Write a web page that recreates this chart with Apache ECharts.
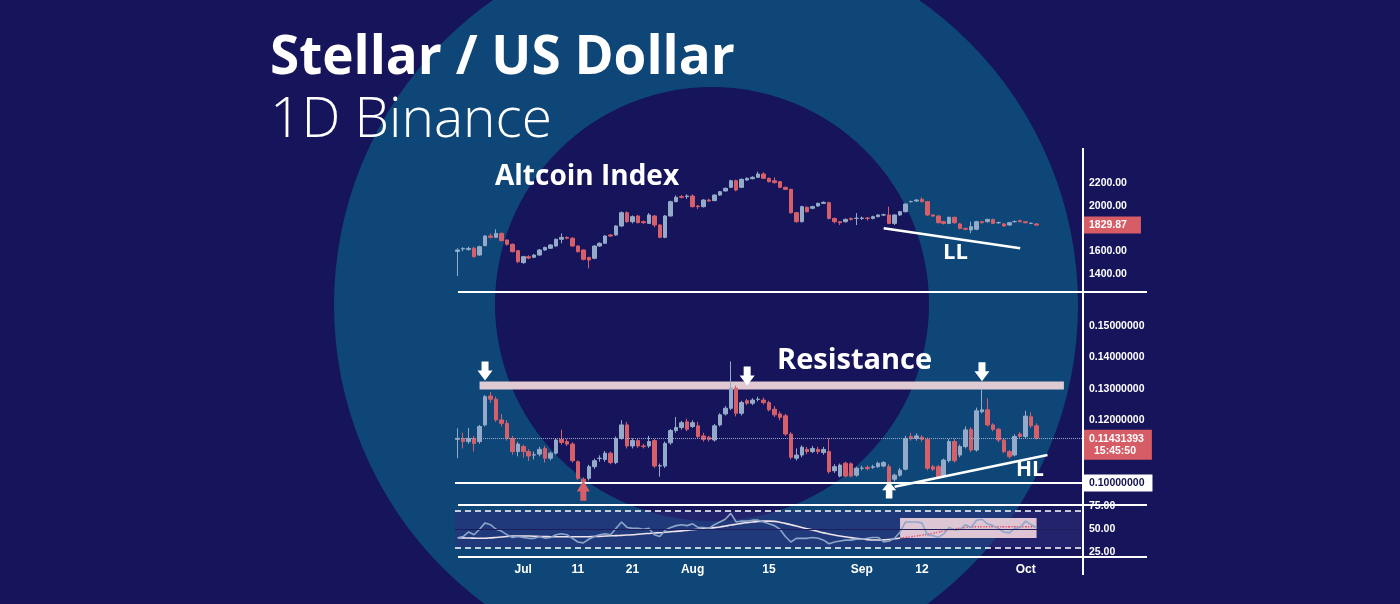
<!DOCTYPE html>
<html><head><meta charset="utf-8">
<script src="https://cdn.jsdelivr.net/npm/echarts/dist/echarts.min.js"></script>
<style>html,body{margin:0;padding:0;background:#15134f;}#chart{width:1400px;height:604px;}</style>
</head><body><div id="chart"></div>
<script>
// ---------- categories (daily) ----------
const categories = [];
(function () {
  const d0 = Date.UTC(2022, 5, 19);
  for (let k = 0; k < 115; k++) categories.push(new Date(d0 + k * 86400000).toISOString().slice(0, 10));
})();
const tickDates = ['2022-07-01','2022-07-11','2022-07-21','2022-08-01','2022-08-15','2022-09-01','2022-09-12','2022-10-01'];
const tickTexts = ['Jul','11','21','Aug','15','Sep','12','Oct'];

// ---------- Altcoin Index [open, close, low, high] ----------
const altcoinOHLC = [
[1598,1611,1382,1626],[1620,1625,1600,1635],[1615,1625,1605,1640],[1626,1552,1545,1640],[1567,1640,1560,1650],
[1649,1734,1645,1740],[1734,1722,1712,1757],[1722,1757,1718,1793],[1757,1693,1688,1765],[1699,1661,1650,1705],
[1661,1596,1590,1668],[1605,1508,1495,1610],[1500,1552,1490,1560],[1552,1540,1530,1565],[1547,1567,1540,1575],
[1567,1611,1560,1620],[1611,1634,1605,1640],[1626,1655,1620,1662],[1646,1705,1640,1712],[1705,1722,1670,1757],
[1722,1715,1705,1730],[1714,1646,1640,1725],[1646,1596,1590,1652],[1611,1529,1520,1615],[1546,1523,1450,1552],
[1538,1646,1530,1652],[1646,1670,1640,1678],[1670,1734,1665,1742],[1743,1734,1728,1750],[1743,1822,1738,1830],
[1822,1939,1815,1950],[1939,1860,1850,1950],[1860,1904,1845,1915],[1910,1851,1845,1920],[1860,1851,1842,1870],
[1845,1919,1840,1935],[1910,1831,1810,1918],[1831,1722,1715,1838],[1722,1910,1715,1918],[1910,2036,1905,2045],
[2036,2074,2030,2090],[2080,2074,2065,2095],[2080,2086,2060,2100],[2086,1992,1985,2100],[1998,1992,1970,2005],
[1992,2050,1985,2058],[2050,2042,2035,2062],[2045,2094,2040,2100],[2094,2124,2088,2130],[2130,2153,2125,2160],
[2162,2220,2155,2228],[2220,2138,2128,2230],[2162,2232,2155,2240],[2226,2241,2220,2250],[2238,2250,2232,2260],
[2250,2279,2245,2300],[2279,2241,2235,2295],[2241,2212,2205,2248],[2220,2203,2195,2250],[2212,2162,2155,2218],
[2162,2144,2138,2168],[2144,1939,1930,2150],[1939,1860,1850,1945],[1860,1992,1852,2000],[1986,1948,1940,1995],
[1978,1992,1970,2000],[1998,2021,1992,2028],[2021,2030,2015,2038],[2027,1889,1880,2035],[1889,1860,1845,1895],
[1860,1851,1830,1865],[1860,1880,1852,1888],[1889,1880,1870,1895],[1889,1890,1830,1935],[1889,1892,1875,1905],
[1892,1889,1870,1900],[1889,1904,1880,1912],[1904,1919,1898,1925],[1919,1920,1910,1930],[1919,1845,1838,1992],
[1845,1919,1830,1925],[1919,1948,1912,1955],[1948,2015,1940,2022],[2036,2037,2028,2045],[2042,2050,2035,2058],
[2056,2036,2030,2075],[2036,1919,1910,2042],[1919,1910,1900,1925],[1910,1851,1845,1918],[1860,1845,1835,1868],
[1845,1898,1838,1905],[1898,1851,1840,1905],[1840,1801,1792,1848],[1801,1793,1785,1808],[1787,1816,1758,1860],
[1793,1860,1785,1868],[1860,1851,1845,1866],[1860,1880,1852,1886],[1880,1845,1838,1886],[1851,1852,1840,1860],
[1840,1822,1815,1848],[1831,1851,1825,1858],[1860,1861,1852,1870],[1869,1860,1855,1878],[1860,1851,1845,1866],
[1845,1846,1838,1852],[1840,1829.87,1825,1848]
];

// ---------- Stellar / USD [open, close, low, high] ----------
const xlmOHLC = [
[0.1139,0.1142,0.1079,0.1174],[0.1142,0.1132,0.1110,0.1160],[0.1132,0.1142,0.1125,0.1175],[0.1142,0.1126,0.1100,0.1150],[0.1132,0.1180,0.1125,0.1185],
[0.1185,0.1275,0.1180,0.1280],[0.1277,0.1267,0.1255,0.1290],[0.1267,0.1201,0.1195,0.1275],[0.1201,0.1190,0.1180,0.1220],[0.1190,0.1142,0.1135,0.1200],
[0.1142,0.1100,0.1090,0.1150],[0.1100,0.1124,0.1085,0.1130],[0.1116,0.1100,0.1080,0.1122],[0.1100,0.1086,0.1070,0.1108],[0.1089,0.1090,0.1075,0.1100],
[0.1092,0.1107,0.1085,0.1115],[0.1110,0.1079,0.1065,0.1118],[0.1079,0.1095,0.1072,0.1100],[0.1095,0.1137,0.1090,0.1142],[0.1139,0.1129,0.1122,0.1170],
[0.1132,0.1124,0.1118,0.1140],[0.1124,0.1071,0.1065,0.1130],[0.1068,0.1015,0.1010,0.1072],[0.1012,0.1004,0.1001,0.1018],[0.1015,0.1052,0.1008,0.1058],
[0.1052,0.1071,0.1045,0.1078],[0.1078,0.1079,0.1068,0.1088],[0.1075,0.1095,0.1068,0.1102],[0.1095,0.1065,0.1060,0.1100],[0.1065,0.1142,0.1060,0.1148],
[0.1142,0.1185,0.1138,0.1200],[0.1185,0.1118,0.1110,0.1195],[0.1118,0.1135,0.1110,0.1142],[0.1135,0.1118,0.1112,0.1142],[0.1118,0.1116,0.1110,0.1125],
[0.1118,0.1132,0.1112,0.1150],[0.1135,0.1054,0.1048,0.1140],[0.1054,0.1055,0.1020,0.1062],[0.1054,0.1126,0.1048,0.1132],[0.1128,0.1167,0.1122,0.1172],
[0.1167,0.1177,0.1160,0.1210],[0.1177,0.1192,0.1170,0.1198],[0.1195,0.1171,0.1165,0.1205],[0.1180,0.1192,0.1175,0.1200],[0.1182,0.1148,0.1140,0.1195],
[0.1150,0.1139,0.1132,0.1160],[0.1146,0.1139,0.1132,0.1150],[0.1137,0.1182,0.1132,0.1188],[0.1185,0.1217,0.1180,0.1222],[0.1220,0.1238,0.1215,0.1245],
[0.1238,0.1302,0.1232,0.1387],[0.1302,0.1222,0.1212,0.1310],[0.1222,0.1256,0.1215,0.1262],[0.1262,0.1254,0.1248,0.1268],[0.1254,0.1264,0.1248,0.1270],
[0.1266,0.1267,0.1260,0.1275],[0.1264,0.1256,0.1250,0.1272],[0.1256,0.1233,0.1228,0.1262],[0.1235,0.1217,0.1210,0.1245],[0.1220,0.1209,0.1200,0.1228],
[0.1214,0.1156,0.1150,0.1220],[0.1156,0.1082,0.1075,0.1162],[0.1079,0.1089,0.1072,0.1110],[0.1089,0.1114,0.1082,0.1120],[0.1107,0.1100,0.1092,0.1115],
[0.1100,0.1110,0.1095,0.1118],[0.1107,0.1100,0.1092,0.1115],[0.1097,0.1107,0.1090,0.1115],[0.1100,0.1036,0.1030,0.1142],[0.1039,0.1052,0.1032,0.1060],
[0.1022,0.1057,0.1018,0.1062],[0.1063,0.1022,0.1018,0.1068],[0.1061,0.1022,0.1018,0.1066],[0.1025,0.1047,0.1020,0.1052],[0.1047,0.1047,0.1040,0.1055],
[0.1050,0.1046,0.1040,0.1056],[0.1050,0.1052,0.1045,0.1058],[0.1052,0.1063,0.1048,0.1068],[0.1054,0.1065,0.1050,0.1070],[0.1052,0.1004,0.1000,0.1060],
[0.1012,0.1025,0.1005,0.1030],[0.1025,0.1041,0.1020,0.1048],[0.1044,0.1142,0.1040,0.1150],[0.1148,0.1141,0.1135,0.1160],[0.1142,0.1150,0.1135,0.1158],
[0.1146,0.1139,0.1132,0.1152],[0.1139,0.1047,0.1040,0.1145],[0.1052,0.1044,0.1038,0.1058],[0.1052,0.1020,0.1015,0.1058],[0.1022,0.1073,0.1018,0.1078],
[0.1071,0.1132,0.1065,0.1140],[0.1132,0.1071,0.1065,0.1140],[0.1089,0.1116,0.1082,0.1122],[0.1116,0.1169,0.1110,0.1180],[0.1171,0.1105,0.1098,0.1178],
[0.1105,0.1230,0.1100,0.1240],[0.1227,0.1233,0.1222,0.1300],[0.1233,0.1185,0.1180,0.1270],[0.1185,0.1171,0.1165,0.1190],[0.1171,0.1137,0.1130,0.1176],
[0.1137,0.1100,0.1095,0.1142],[0.1100,0.1084,0.1078,0.1105],[0.1089,0.1148,0.1085,0.1155],[0.1156,0.1148,0.1142,0.1162],[0.1148,0.1213,0.1142,0.1230],
[0.1211,0.1182,0.1175,0.1225],[0.1182,0.11431393,0.1138,0.1190]
];

// ---------- RSI and its moving average ----------
const rsi = [
40.6,42,47,44,50,57,55,50,48,44,41,42,41,40,40,42,40,41,44,45,
44,40,36,35,39,42,44,45,44,51,58,52,51,51,50,51,44,42,49,52,
54,55,54,56,52,52,51,55,58,61,67.5,58,59,59,60,60,58,56,54,50,
42,36,40,40,40,41,40,38,34,36,37,38,38,39,39,40,41,41,36,37,
40,47,58,58,58,57,44,43,41,45,52,49,50,55,52,60,61,56,54,51,
47,46,51,52,59,55,52
];
const rsiMA = [
40.6,40.5,40.3,40.2,40.1,40.1,40.5,41,41.5,42,42.5,42.6,42.6,42.5,42.3,42.0,41.9,41.8,41.8,41.7,
41.7,41.7,41.7,41.7,41.8,42.0,42.2,42.5,42.8,43.0,43.3,43.6,44,44.5,45,45.4,45.8,46.2,46.7,47.2,
47.7,48.2,48.8,49.4,50,50.6,51.2,51.8,52.5,53.5,54.6,55.5,56.5,57.3,58,58.5,58.9,59,58.7,57.8,
56.5,55,53.5,52,50.5,49.1,47.5,46,44.8,43.6,42.5,41.7,40.8,40,39.2,38.6,38.2,38.1,38.3,38.8,
39.5,40.3,41,41.7,42.6,43.5,44.4,45.5,46.8,48,49.2,50.2,51.2,52,52.6,52.8,52.8,52.8,52.8,52.8,
52.8,52.8,52.8,52.8,52.8,52.8,52.9
];

// ---------- axis ticks / reference levels ----------
const altcoinTicks = [1400, 1600, 2000, 2200];
const xlmTicks = [12, 13, 14, 15];          // in hundredths
const rsiTicks = [25, 50, 75];
const altcoinLast = 1829.87;
const xlmLast = 0.11431393;
const xlmCountdown = '15:45:50';
const xlmSupport = 0.10;
const resistanceBand = [0.1298, 0.1323];
const llLine = [[78, 1802], [103, 1626]];
const hlLine = [[80, 0.0988], [108, 0.1089]];
const rsiBox = [[81, 62.5], [106, 40.5]];
const xlmLabelNudge = 0.0021;   // the price tag hangs below its line

const UP = '#93abc8', DOWN = '#d65f69', NAVY = '#16145a', RING = '#0e4777';
const AXFONT = '"Liberation Sans", Arial, sans-serif';
const TFONT = '"Open Sans", sans-serif';
const downArrow = 'path://M4,0L11,0L11,9L15,9L7.5,19L0,9L4,9Z';
const upArrow = 'path://M7.5,0L15,10L11,10L11,19L4,19L4,10L0,10Z';

const chart = echarts.init(document.getElementById('chart'), null, { renderer: 'canvas' });
const splitMA = (lo, hi) => rsiMA.map((v, i) => (i >= lo && i <= hi ? v : null));

const xAxisBase = (idx, showLabels) => ({
  type: 'category', gridIndex: idx, data: categories, boundaryGap: true,
  axisLine: { show: false }, axisTick: { show: false }, splitLine: { show: false },
  axisLabel: showLabels ? {
    show: true, margin: 7, color: '#fff', fontWeight: 'bold', fontSize: 12, fontFamily: AXFONT,
    interval: (i, v) => tickDates.indexOf(v) >= 0,
    formatter: v => tickTexts[tickDates.indexOf(v)] || ''
  } : { show: false }
});
const yLabel = fmt => ({ show: true, inside: false, margin: 6, color: '#fff', fontWeight: 'bold', fontSize: 10.5, fontFamily: AXFONT, formatter: fmt });
const yBase = (idx, min, max, interval, fmt) => ({
  type: 'value', gridIndex: idx, position: 'right', min, max, interval, scale: false,
  axisLine: { show: false }, axisTick: { show: false }, splitLine: { show: false }, axisLabel: yLabel(fmt)
});
const boxLabel = (text, bg, fg, padRight) => ({
  show: true, position: 'end', distance: 0, formatter: text, backgroundColor: bg, color: fg,
  padding: [3, padRight, 3, 6], fontSize: 10.5, fontWeight: 'bold', fontFamily: AXFONT
});

const option = {
  backgroundColor: NAVY,
  animation: false,
  grid: [
    { left: 455, right: 317, top: 160.25, height: 136.5 },
    { left: 455, right: 317, top: 294.6, height: 219.8 },
    { left: 455, right: 317, top: 502, height: 54.5 }
  ],
  xAxis: [xAxisBase(0, false), xAxisBase(1, false), xAxisBase(2, true)],
  yAxis: [
    yBase(0, 1200, 2400, 200, v => altcoinTicks.indexOf(v) >= 0 ? v.toFixed(2) : ''),
    yBase(1, 0.09, 0.16, 0.01, v => xlmTicks.indexOf(Math.round(v * 100)) >= 0 ? v.toFixed(8) : ''),
    yBase(2, 20, 80, 5, v => rsiTicks.indexOf(v) >= 0 ? v.toFixed(2) : '')
  ],
  series: [
    {
      name: 'Altcoin Index', type: 'candlestick', xAxisIndex: 0, yAxisIndex: 0, data: altcoinOHLC,
      barWidth: 4, z: 3,
      itemStyle: { color: UP, color0: DOWN, borderColor: UP, borderColor0: DOWN, borderWidth: 1 },
      markLine: {
        silent: true, symbol: ['none', 'none'], precision: 8,
        data: [
          [{ coord: [categories[llLine[0][0]], llLine[0][1]], lineStyle: { color: '#fff', width: 2.5, type: 'solid' }, label: { show: false } },
           { coord: [categories[llLine[1][0]], llLine[1][1]] }]
        ]
      }
    },
    {
      name: 'Altcoin last', type: 'line', xAxisIndex: 0, yAxisIndex: 0, data: [], silent: true, z: 5,
      markLine: {
        silent: true, symbol: ['none', 'none'], precision: 8,
        data: [{ yAxis: altcoinLast, lineStyle: { color: 'rgba(0,0,0,0)', width: 0 }, label: boxLabel(altcoinLast.toFixed(2), '#d65c66', '#fff', 14) }]
      }
    },
    {
      name: 'XLM/USD', type: 'candlestick', xAxisIndex: 1, yAxisIndex: 1, data: xlmOHLC,
      barWidth: 4, z: 3,
      itemStyle: { color: UP, color0: DOWN, borderColor: UP, borderColor0: DOWN, borderWidth: 1 },
      markArea: {
        silent: true,
        itemStyle: { color: '#ebd3d8', opacity: 0.95 },
        data: [[{ xAxis: categories[4], yAxis: resistanceBand[0] }, { xAxis: categories[111], yAxis: resistanceBand[1] }]]
      },
      markLine: {
        silent: true, symbol: ['none', 'none'], precision: 8,
        data: [
          [{ coord: [categories[hlLine[0][0]], hlLine[0][1]], lineStyle: { color: '#fff', width: 2.5, type: 'solid' }, label: { show: false } },
           { coord: [categories[hlLine[1][0]], hlLine[1][1]] }]
        ]
      },
      markPoint: {
        silent: true, label: { show: false },
        data: [
          { coord: [categories[5], 0.1357], symbol: downArrow, symbolSize: [15, 19], itemStyle: { color: '#fff' } },
          { coord: [categories[53], 0.1341], symbol: downArrow, symbolSize: [15, 19], itemStyle: { color: '#fff' } },
          { coord: [categories[96], 0.1354], symbol: downArrow, symbolSize: [15, 19], itemStyle: { color: '#fff' } },
          { coord: [categories[23], 0.0975], symbol: upArrow, symbolSize: [13, 20], itemStyle: { color: '#d65f69' } },
          { coord: [categories[79], 0.0978], symbol: upArrow, symbolSize: [14, 17], itemStyle: { color: '#fff' } }
        ]
      }
    },
    {
      name: 'XLM levels', type: 'line', xAxisIndex: 1, yAxisIndex: 1, data: [], silent: true, z: 4,
      markLine: {
        silent: true, symbol: ['none', 'none'], precision: 8,
        data: [
          { yAxis: xlmSupport, lineStyle: { color: '#fff', width: 2, type: 'solid' }, label: boxLabel('0.10000000', '#fff', '#15134f', 8) },
          { yAxis: xlmLast, lineStyle: { color: '#9aa6cc', width: 1, type: 'dotted' }, label: { show: false } },
          { yAxis: xlmLast - xlmLabelNudge, lineStyle: { color: 'rgba(0,0,0,0)', width: 0 },
            label: Object.assign(boxLabel('{a|' + xlmLast.toFixed(8) + '}\n{b|' + xlmCountdown + '}', '#d65c66', '#fff', 8), {
              rich: { a: { fontSize: 10.5, fontWeight: 'bold', color: '#fff', fontFamily: AXFONT, lineHeight: 12 },
                      b: { fontSize: 10.5, fontWeight: 'bold', color: '#fff', fontFamily: AXFONT, lineHeight: 12, padding: [0, 0, 0, 5] } }
            }) }
        ]
      }
    },
    {
      name: 'RSI band', type: 'line', xAxisIndex: 2, yAxisIndex: 2, data: rsi, z: 1,
      symbol: 'none', lineStyle: { opacity: 0 }, silent: true,
      markArea: {
        silent: true,
        data: [
          [{ yAxis: 30, itemStyle: { color: 'rgba(45,45,125,0.55)' } }, { yAxis: 70 }],
          [{ coord: [categories[rsiBox[0][0]], rsiBox[0][1]], itemStyle: { color: 'rgba(240,210,220,0.92)' } },
           { coord: [categories[rsiBox[1][0]], rsiBox[1][1]] }]
        ]
      },
      markLine: {
        silent: true, symbol: ['none', 'none'], label: { show: false },
        data: [
          { yAxis: 70, lineStyle: { color: '#fff', width: 1.5, type: [6, 4] } },
          { yAxis: 30, lineStyle: { color: '#fff', width: 1.5, type: [6, 4] } },
          { yAxis: 50, lineStyle: { color: '#1e1c5a', width: 1.2, type: 'solid' } }
        ]
      }
    },
    {
      name: 'RSI', type: 'line', xAxisIndex: 2, yAxisIndex: 2, data: rsi, z: 4,
      symbol: 'none', lineStyle: { color: '#8ea6c9', width: 1.6 }
    },
    {
      name: 'RSI MA', type: 'line', xAxisIndex: 2, yAxisIndex: 2, data: splitMA(0, 81), z: 3,
      symbol: 'none', smooth: true, lineStyle: { color: '#efe3ec', width: 1.6 }
    },
    {
      name: 'RSI MA (box)', type: 'line', xAxisIndex: 2, yAxisIndex: 2, data: splitMA(81, 106), z: 3,
      symbol: 'none', smooth: true, lineStyle: { color: '#e0505f', width: 1.4, type: 'dotted' }
    }
  ],
  graphic: [
    { type: 'circle', z: -10, silent: true, shape: { cx: 706, cy: 305, r: 372 }, style: { fill: RING } },
    { type: 'circle', z: -9, silent: true, shape: { cx: 712, cy: 304, r: 217 }, style: { fill: NAVY } },
    { type: 'line', z: 50, silent: true, shape: { x1: 458, y1: 292, x2: 1147, y2: 292 }, style: { stroke: '#fff', lineWidth: 2 } },
    { type: 'line', z: 50, silent: true, shape: { x1: 458, y1: 505, x2: 1147, y2: 505 }, style: { stroke: '#fff', lineWidth: 2 } },
    { type: 'line', z: 50, silent: true, shape: { x1: 458, y1: 557, x2: 1147, y2: 557 }, style: { stroke: '#fff', lineWidth: 2 } },
    { type: 'line', z: 50, silent: true, shape: { x1: 1083, y1: 148, x2: 1083, y2: 575 }, style: { stroke: '#fff', lineWidth: 2 } },
    { type: 'text', z: 60, silent: true, x: 270, y: 59, style: { text: 'Stellar / US Dollar', fill: '#fff', fontSize: 53, fontWeight: 'bold', fontFamily: TFONT, verticalAlign: 'middle' } },
    { type: 'text', z: 60, silent: true, x: 270, y: 121, style: { text: '1D Binance', fill: '#fff', fontSize: 55, fontWeight: 300, fontFamily: TFONT, verticalAlign: 'middle' } },
    { type: 'text', z: 60, silent: true, x: 495, y: 177, style: { text: 'Altcoin Index', fill: '#fff', fontSize: 28, fontWeight: 'bold', fontFamily: TFONT, verticalAlign: 'middle' } },
    { type: 'text', z: 60, silent: true, x: 777, y: 361, style: { text: 'Resistance', fill: '#fff', fontSize: 29, fontWeight: 'bold', fontFamily: TFONT, verticalAlign: 'middle' } },
    { type: 'text', z: 60, silent: true, x: 943, y: 253, style: { text: 'LL', fill: '#fff', fontSize: 22, fontWeight: 'bold', fontFamily: TFONT, verticalAlign: 'middle' } },
    { type: 'text', z: 60, silent: true, x: 1016, y: 470, style: { text: 'HL', fill: '#fff', fontSize: 21, fontWeight: 'bold', fontFamily: TFONT, verticalAlign: 'middle' } }
  ]
};
chart.setOption(option);
</script>
</body></html>
